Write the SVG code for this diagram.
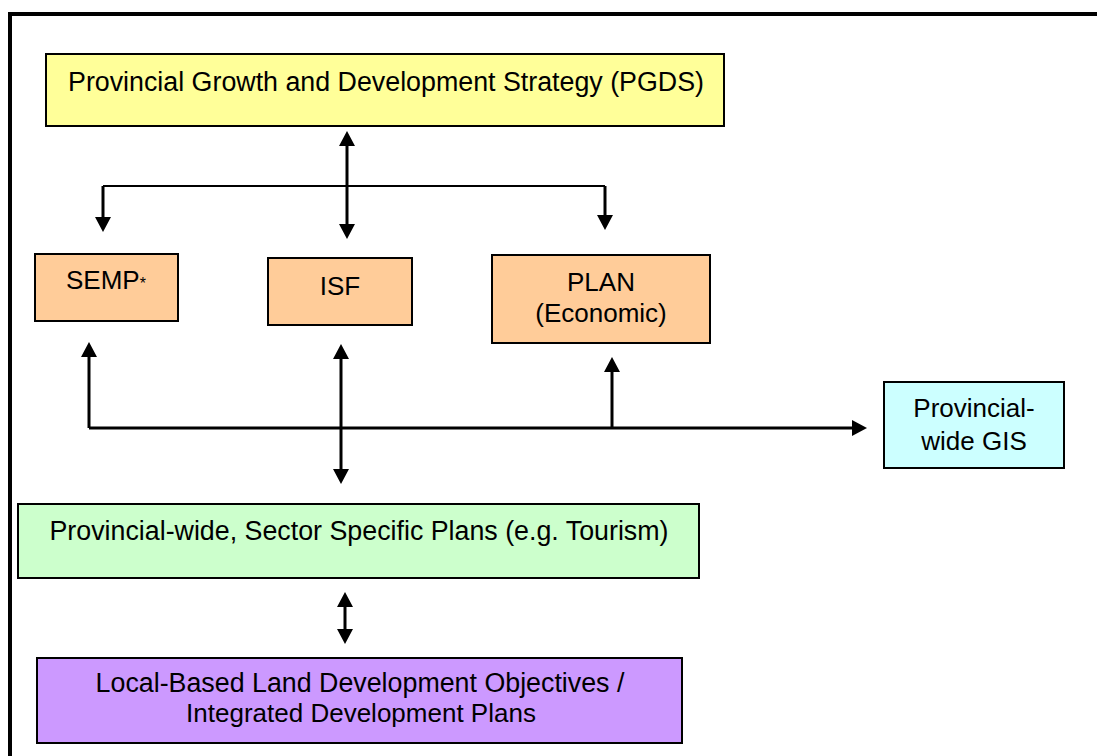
<svg xmlns="http://www.w3.org/2000/svg" width="1097" height="756" viewBox="0 0 1097 756">
  <style>
    .box { stroke: #000; stroke-width: 2; }
    .lbl { font-family: "Liberation Sans", Arial, sans-serif; font-size: 26px; fill: #000; text-anchor: middle; }
    .wide { font-size: 26.8px; }
    .wire { stroke: #000; stroke-width: 3; fill: none; }
    .thin { stroke: #000; stroke-width: 2; fill: none; }
  </style>
  <defs>
    <marker id="head" viewBox="0 -8 15 16" markerWidth="15" markerHeight="16" refX="1" refY="0" markerUnits="userSpaceOnUse" orient="auto-start-reverse">
      <path d="M0,-8 L15,0 L0,8 Z" fill="#000"/>
    </marker>
  </defs>

  <rect width="1097" height="756" fill="#fff"/>
  <!-- page frame -->
  <rect x="10" y="14" width="1100" height="760" fill="none" stroke="#000" stroke-width="4"/>

  <g id="connectors">
    <!-- PGDS to branch -->
    <line class="wire" x1="347" y1="145" x2="347" y2="225" marker-start="url(#head)" marker-end="url(#head)"/>
    <line class="thin" x1="103" y1="186" x2="605" y2="186"/>
    <line class="wire" x1="103" y1="186" x2="103" y2="218" marker-end="url(#head)"/>
    <line class="wire" x1="605" y1="186" x2="605" y2="216" marker-end="url(#head)"/>
    <!-- lower bus -->
    <line class="wire" x1="89" y1="428" x2="853" y2="428" marker-end="url(#head)"/>
    <line class="wire" x1="89" y1="428" x2="89" y2="356" marker-end="url(#head)"/>
    <line class="wire" x1="612" y1="428" x2="612" y2="371" marker-end="url(#head)"/>
    <line class="wire" x1="341" y1="358" x2="341" y2="470" marker-start="url(#head)" marker-end="url(#head)"/>
    <!-- sector plans to local plans -->
    <line class="wire" x1="345" y1="606" x2="345" y2="630" marker-start="url(#head)" marker-end="url(#head)"/>
  </g>

  <g id="pgds">
    <rect class="box" x="46" y="54" width="678" height="72" fill="#FFFF99"/>
    <text class="lbl wide" x="386" y="91">Provincial Growth and Development Strategy (PGDS)</text>
  </g>

  <g id="semp">
    <rect class="box" x="35" y="254" width="143" height="67" fill="#FFCC99"/>
    <text class="lbl" x="66" y="289" style="text-anchor:start">SEMP<tspan font-size="16">*</tspan></text>
  </g>

  <g id="isf">
    <rect class="box" x="268" y="258" width="144" height="67" fill="#FFCC99"/>
    <text class="lbl" x="340" y="295">ISF</text>
  </g>

  <g id="plan">
    <rect class="box" x="492" y="255" width="218" height="88" fill="#FFCC99"/>
    <text class="lbl" x="601" y="291">PLAN</text>
    <text class="lbl" x="601" y="322">(Economic)</text>
  </g>

  <g id="gis">
    <rect class="box" x="884" y="382" width="180" height="86" fill="#CCFFFF"/>
    <text class="lbl" x="974" y="417">Provincial-</text>
    <text class="lbl" x="974" y="450">wide GIS</text>
  </g>

  <g id="sector">
    <rect class="box" x="18" y="504" width="681" height="74" fill="#CCFFCC"/>
    <text class="lbl wide" x="359" y="540">Provincial-wide, Sector Specific Plans (e.g. Tourism)</text>
  </g>

  <g id="local">
    <rect class="box" x="37" y="658" width="645" height="85" fill="#CC99FF"/>
    <text class="lbl wide" x="360" y="692">Local-Based Land Development Objectives /</text>
    <text class="lbl" x="361" y="722">Integrated Development Plans</text>
  </g>
</svg>
